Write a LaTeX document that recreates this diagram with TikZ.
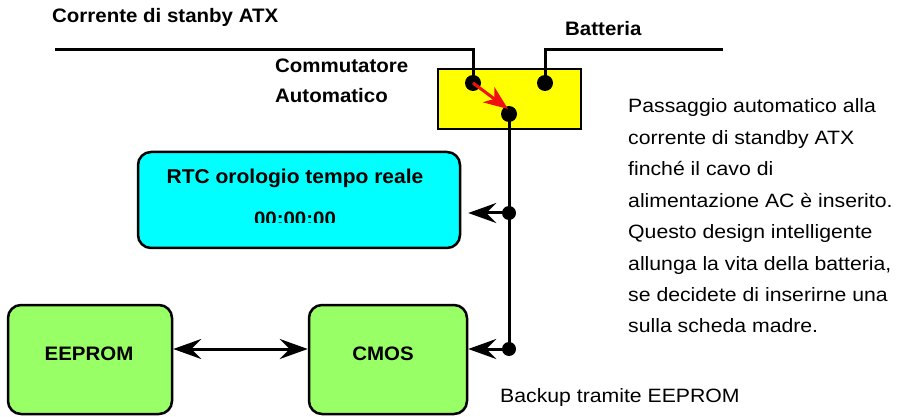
\documentclass[tikz,border=0pt]{standalone}
\usepackage{fontspec}
\setmainfont{Liberation Sans}
\newfontfamily\pfont{Liberation Sans}[FakeStretch=1.10]
\newfontfamily\bfont{Liberation Sans}[FakeStretch=1.05]
\usetikzlibrary{arrows.meta}
\definecolor{boxgreen}{HTML}{99FF66}
\definecolor{boxcyan}{HTML}{00FFFF}
\definecolor{boxyellow}{HTML}{FFFF00}
\definecolor{arrred}{HTML}{F01010}
\begin{document}
\begin{tikzpicture}[x=1pt,y=-1pt,
  wire/.style={line width=3pt},
  rbox/.style={draw, line width=2.5pt, rounded corners=13pt, inner sep=0},
  dotbig/.style={circle, fill=black, inner sep=0, minimum size=16pt},
  dotsm/.style={circle, fill=black, inner sep=0, minimum size=14pt},
  arr/.style={-{Stealth[length=28pt,width=20pt,inset=10pt]}},
  darr/.style={{Stealth[length=28pt,width=20pt,inset=10pt]}-{Stealth[length=28pt,width=20pt,inset=10pt]}},
  bt/.style={font=\bfont\bfseries\fontsize{19.5}{22}\selectfont, inner sep=0},
  ptxt/.style={font=\pfont\fontsize{19.3}{22}\selectfont, inner sep=0, anchor=base west}]
\useasboundingbox (0,0) rectangle (898,417);
\clip (0,0) rectangle (898,417);
\fill[white] (0,0) rectangle (898,417);

% boxes
\node[draw, line width=2pt, fill=boxyellow, minimum width=143pt, minimum height=60pt, inner sep=0] (sw) at (509.5,99) {};
\node[rbox, fill=boxcyan, minimum width=322pt, minimum height=96pt] (rtc) at (299,200) {};
\node[rbox, fill=boxgreen, minimum width=164pt, minimum height=109pt] (eeprom) at (90,359.5) {};
\node[rbox, fill=boxgreen, minimum width=158pt, minimum height=109pt] (cmos) at (388,359.5) {};

% dots
\node[dotbig] (d1) at (473,83) {};
\node[dotbig] (d2) at (545,83) {};
\node[dotbig] (d3) at (509,114) {};
\node[dotsm] (d4) at (509,213) {};
\node[dotsm] (d5) at (509,349) {};

\coordinate (atxL) at (55,50);
\coordinate (batR) at (723,50);

% wires
\draw[wire] (atxL) -- (atxL -| d1) -- (d1.center);
\draw[wire] (batR) -- (batR -| d2) -- (d2.center);
\draw[wire] (d3.center) -- (d5.center);
\draw[wire, arr, shorten >=7pt] (d4.center) -- (d4 -| rtc.east);
\draw[wire, arr] (d5.center) -- (d5 -| cmos.east);
\draw[wire, darr] (eeprom.east |- d5) -- (cmos.west |- d5);
\draw[arrred, line width=3pt, -{Stealth[length=24pt,width=19pt,inset=7pt]}] (d1.center) -- ([shift={(-1pt,5pt)}]d3.center);

% texts
\node[bt, anchor=base west] (t1) at (52,23) {Corrente di stanby ATX};
\node[bt, anchor=base west] (t2) at (565,36) {Batteria};
\node[bt, anchor=base west] (t3) at (275,73) {Commutatore};
\node[bt, anchor=base west] (t4) at (275,103) {Automatico};
\node[bt, anchor=base, font=\bfont\bfseries\fontsize{20}{22}\selectfont] (rtct) at (295,184) {RTC orologio tempo reale};
\begin{scope}
  \clip (140,152) rectangle (458,223);
  \node[bt, anchor=base] (clk) at (295,225.5) {00:00:00};
\end{scope}
\node[bt, anchor=base] (eet) at (89,360.5) {EEPROM};
\node[bt, anchor=base] (cmt) at (383,360.5) {CMOS};

\foreach \t [count=\i from 0] in {Passaggio automatico alla, corrente di standby ATX, finché il cavo di, alimentazione AC è inserito., Questo design intelligente, {allunga la vita della batteria,}, se decidete di inserirne una, sulla scheda madre.}
  \node[ptxt] (p\i) at (628, 113+31.4*\i) {\t};

\node[ptxt] (bk) at (500,402) {Backup tramite EEPROM};
\end{tikzpicture}
\end{document}
